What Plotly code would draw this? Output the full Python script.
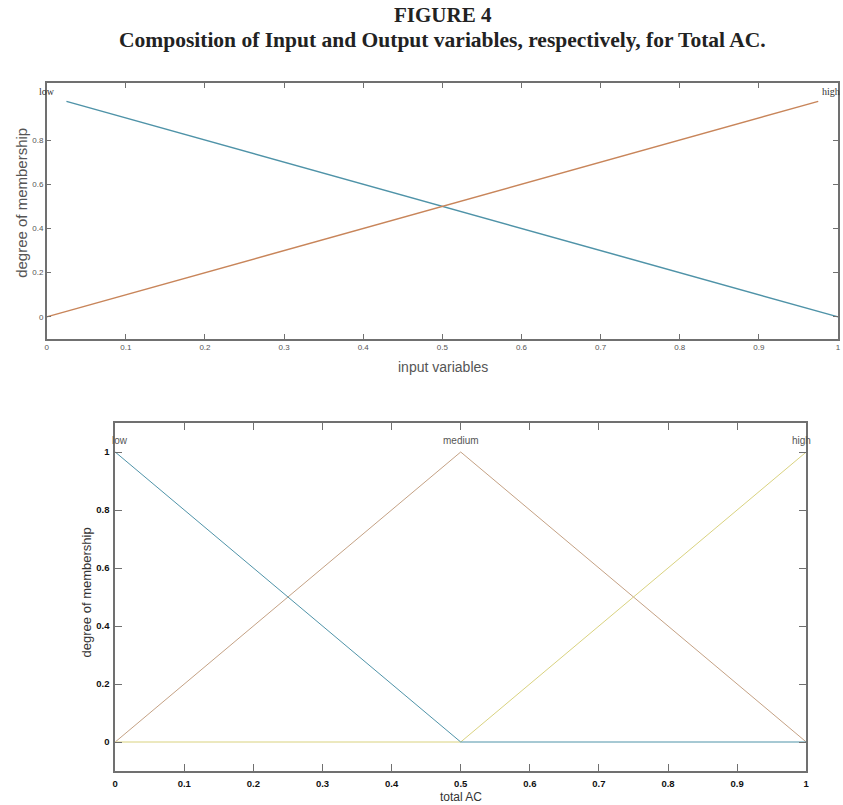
import plotly.graph_objects as go

W, H = 843, 805

# ---- data ----
top_low_x = [0.025, 1.0]
top_low_y = [0.975, 0.0]
top_high_x = [0.0, 0.975]
top_high_y = [0.0, 0.975]
top_xticks = [0, 0.1, 0.2, 0.3, 0.4, 0.5, 0.6, 0.7, 0.8, 0.9, 1]
top_xlabels = ["0", "0.1", "0.2", "0.3", "0.4", "0.5", "0.6", "0.7", "0.8", "0.9", "1"]
top_yticks = [0, 0.2, 0.4, 0.6, 0.8]
top_ylabels = ["0", "0.2", "0.4", "0.6", "0.8"]

bot_x = [0.0, 0.5, 1.0]
bot_low_y = [1.0, 0.0, 0.0]
bot_med_y = [0.0, 1.0, 0.0]
bot_high_y = [0.0, 0.0, 1.0]
bot_xticks = [0, 0.1, 0.2, 0.3, 0.4, 0.5, 0.6, 0.7, 0.8, 0.9, 1]
bot_xlabels = ["0", "0.1", "0.2", "0.3", "0.4", "0.5", "0.6", "0.7", "0.8", "0.9", "1"]
bot_yticks = [0, 0.2, 0.4, 0.6, 0.8, 1]
bot_ylabels = ["0", "0.2", "0.4", "0.6", "0.8", "1"]

def px_x(p):
    return p / W

def px_y(p):
    return 1 - p / H

fig = go.Figure()
c_blue = "#4f93a8"
c_orange = "#c8855a"
c_tan = "#c4a184"
c_yellow = "#d9d27f"

fig.add_trace(go.Scatter(x=top_low_x, y=top_low_y, mode="lines", line=dict(color=c_blue, width=1.5), xaxis="x", yaxis="y"))
fig.add_trace(go.Scatter(x=top_high_x, y=top_high_y, mode="lines", line=dict(color=c_orange, width=1.5), xaxis="x", yaxis="y"))

fig.add_trace(go.Scatter(x=bot_x, y=bot_med_y, mode="lines", line=dict(color=c_tan, width=1), xaxis="x2", yaxis="y2"))
fig.add_trace(go.Scatter(x=bot_x, y=bot_high_y, mode="lines", line=dict(color=c_yellow, width=1), xaxis="x2", yaxis="y2"))
fig.add_trace(go.Scatter(x=bot_x, y=bot_low_y, mode="lines", line=dict(color=c_blue, width=1), xaxis="x2", yaxis="y2"))

axcol = "#707070"
top_tick = dict(family="Liberation Sans, Arial, sans-serif", size=8, color="#555555")
bot_tick = dict(family="Liberation Sans, Arial, sans-serif", size=9.5, color="#111111", weight="bold")

fig.update_layout(
    width=W, height=H,
    margin=dict(l=0, r=0, t=0, b=0),
    paper_bgcolor="white", plot_bgcolor="white",
    showlegend=False,
    xaxis=dict(domain=[px_x(44), px_x(841)], range=[0, 1], tickvals=top_xticks, ticktext=top_xlabels,
               ticks="inside", ticklen=5, tickcolor=axcol, showline=True, linecolor=axcol, linewidth=1.5,
               mirror="ticks", showgrid=False, zeroline=False, tickfont=top_tick, anchor="y"),
    yaxis=dict(domain=[px_y(339), px_y(83)], range=[-0.1, 1.058], tickvals=top_yticks, ticktext=top_ylabels,
               ticks="inside", ticklen=5, tickcolor=axcol, showline=True, linecolor=axcol, linewidth=1.5,
               mirror="ticks", showgrid=False, zeroline=False, tickfont=top_tick, anchor="x"),
    xaxis2=dict(domain=[px_x(113), px_x(809)], range=[0, 1], tickvals=bot_xticks, ticktext=bot_xlabels,
                ticks="inside", ticklen=7, tickcolor=axcol, showline=True, linecolor=axcol, linewidth=1.5,
                mirror="ticks", showgrid=False, zeroline=False, tickfont=bot_tick, anchor="y2",
                ticklabelstandoff=3),
    yaxis2=dict(domain=[px_y(771), px_y(423)], range=[-0.1, 1.1], tickvals=bot_yticks, ticktext=bot_ylabels,
                ticks="inside", ticklen=7, tickcolor=axcol, showline=True, linecolor=axcol, linewidth=1.5,
                mirror="ticks", showgrid=False, zeroline=False, tickfont=bot_tick, anchor="x2",
                ticklabelstandoff=2),
)

serif = "Liberation Serif, Times New Roman, serif"
sans = "Liberation Sans, Arial, sans-serif"
ann = [
    dict(text="<b>FIGURE 4</b>", x=px_x(443), y=px_y(15), font=dict(family=serif, size=21, color="#222222")),
    dict(text="<b>Composition of Input and Output variables, respectively, for Total AC.</b>", x=px_x(443), y=px_y(40),
         font=dict(family=serif, size=21.5, color="#222222")),
    dict(text="degree of membership", x=px_x(18), y=px_y(203), textangle=-90, font=dict(family=sans, size=15, color="#555555")),
    dict(text="input variables", x=px_x(443), y=px_y(367), font=dict(family=sans, size=14, color="#555555")),
    dict(text="degree of membership", x=px_x(84), y=px_y(592), textangle=-90, font=dict(family=sans, size=13, color="#333333")),
    dict(text="total AC", x=px_x(461), y=px_y(797), font=dict(family=sans, size=12, color="#333333")),
    dict(text="low", x=px_x(44), y=px_y(91), font=dict(family=serif, size=10, color="#333333")),
    dict(text="high", x=px_x(834), y=px_y(91), font=dict(family=serif, size=10, color="#333333")),
    dict(text="low", x=px_x(118), y=px_y(441), font=dict(family=sans, size=10, color="#555555")),
    dict(text="medium", x=px_x(461), y=px_y(441), font=dict(family=sans, size=10, color="#555555")),
    dict(text="high", x=px_x(804), y=px_y(441), font=dict(family=sans, size=10, color="#555555")),
]
for a in ann:
    a.update(xref="paper", yref="paper", showarrow=False, xanchor="center", yanchor="middle")
fig.update_layout(annotations=ann)

fig.write_html("out.html", config={"displayModeBar": False},
               post_script="document.body.style.margin='0';document.body.style.overflow='hidden';")
